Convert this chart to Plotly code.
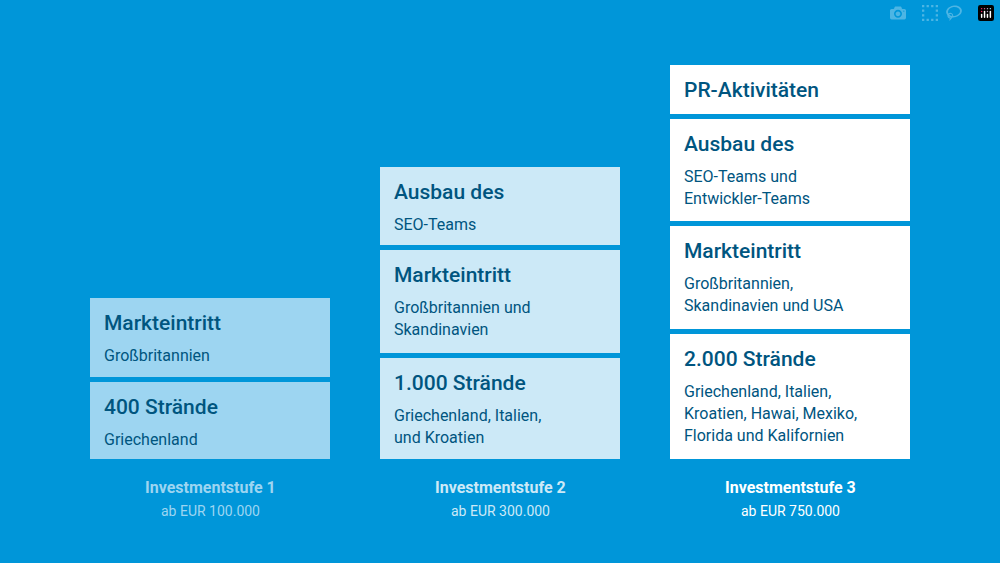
import plotly.graph_objects as go

stages = ["Investmentstufe 1", "Investmentstufe 2", "Investmentstufe 3"]
amounts = ["ab EUR 100.000", "ab EUR 300.000", "ab EUR 750.000"]
# blocks bottom-to-top: (height, title, subtitle lines)
heights = [[77, 79], [101, 103, 78], [125, 103, 102, 49]]
titles = [["400 Strände", "Markteintritt"],
          ["1.000 Strände", "Markteintritt", "Ausbau des"],
          ["2.000 Strände", "Markteintritt", "Ausbau des", "PR-Aktivitäten"]]
subs = [[["Griechenland"], ["Großbritannien"]],
        [["Griechenland, Italien,", "und Kroatien"], ["Großbritannien und", "Skandinavien"], ["SEO-Teams"]],
        [["Griechenland, Italien,", "Kroatien, Hawai, Mexiko,", "Florida und Kalifornien"],
         ["Großbritannien,", "Skandinavien und USA"], ["SEO-Teams und", "Entwickler-Teams"], []]]

BG = "#0096D9"
fills = ["#9DD5F1", "#CCE9F7", "#FFFFFF"]
labcol = ["#9DD5F1", "#CCE9F7", "#FFFFFF"]
TXT = "#00557F"
lefts = [90, 380, 670]
W = 240
GAP = 5
BOTTOM = 563 - 459
H = 563

fig = go.Figure()
ann = []
for c in range(3):
    base = BOTTOM
    xs, ys, bs = [], [], []
    for i, h in enumerate(heights[c]):
        xs.append(lefts[c] + W / 2); ys.append(h); bs.append(base)
        top = base + h
        if subs[c][i]:
            ann.append(dict(x=lefts[c] + 12, y=top - 25, text=titles[c][i], xanchor="left", yanchor="middle",
                            showarrow=False, font=dict(family="Roboto", size=21, color=TXT, weight=500)))
            for k, line in enumerate(subs[c][i]):
                ann.append(dict(x=lefts[c] + 12, y=top - 57 - 22 * k, text=line, xanchor="left", yanchor="middle",
                                showarrow=False, font=dict(family="Roboto", size=16, color=TXT)))
        else:
            ann.append(dict(x=lefts[c] + 12, y=base + h / 2, text=titles[c][i], xanchor="left", yanchor="middle",
                            showarrow=False, font=dict(family="Roboto", size=21, color=TXT, weight=500)))
        base = top + GAP
    fig.add_trace(go.Bar(x=xs, y=ys, base=bs, width=W, marker=dict(color=fills[c], line=dict(width=0)),
                         hoverinfo="skip", showlegend=False))
    ann.append(dict(x=lefts[c] + W / 2, y=H - 487, text=stages[c], showarrow=False, yanchor="middle",
                    font=dict(family="Roboto", size=16, color=labcol[c], weight=700)))
    ann.append(dict(x=lefts[c] + W / 2, y=H - 511, text=amounts[c], showarrow=False, yanchor="middle",
                    font=dict(family="Roboto", size=14, color=labcol[c])))

fig.update_layout(width=1000, height=563, margin=dict(l=0, r=0, t=0, b=0),
                  paper_bgcolor=BG, plot_bgcolor=BG, barmode="overlay", annotations=ann,
                  xaxis=dict(range=[0, 1000], visible=False, fixedrange=True),
                  yaxis=dict(range=[0, 563], visible=False, fixedrange=True))
fig.write_html("out.html")

with open("out.html", encoding="utf-8") as f:
    html = f.read()
html = html.replace("<head>", "<head><style>html,body{margin:0;padding:0;overflow:hidden;background:#0096D9}</style>", 1)
with open("out.html", "w", encoding="utf-8") as f:
    f.write(html)
